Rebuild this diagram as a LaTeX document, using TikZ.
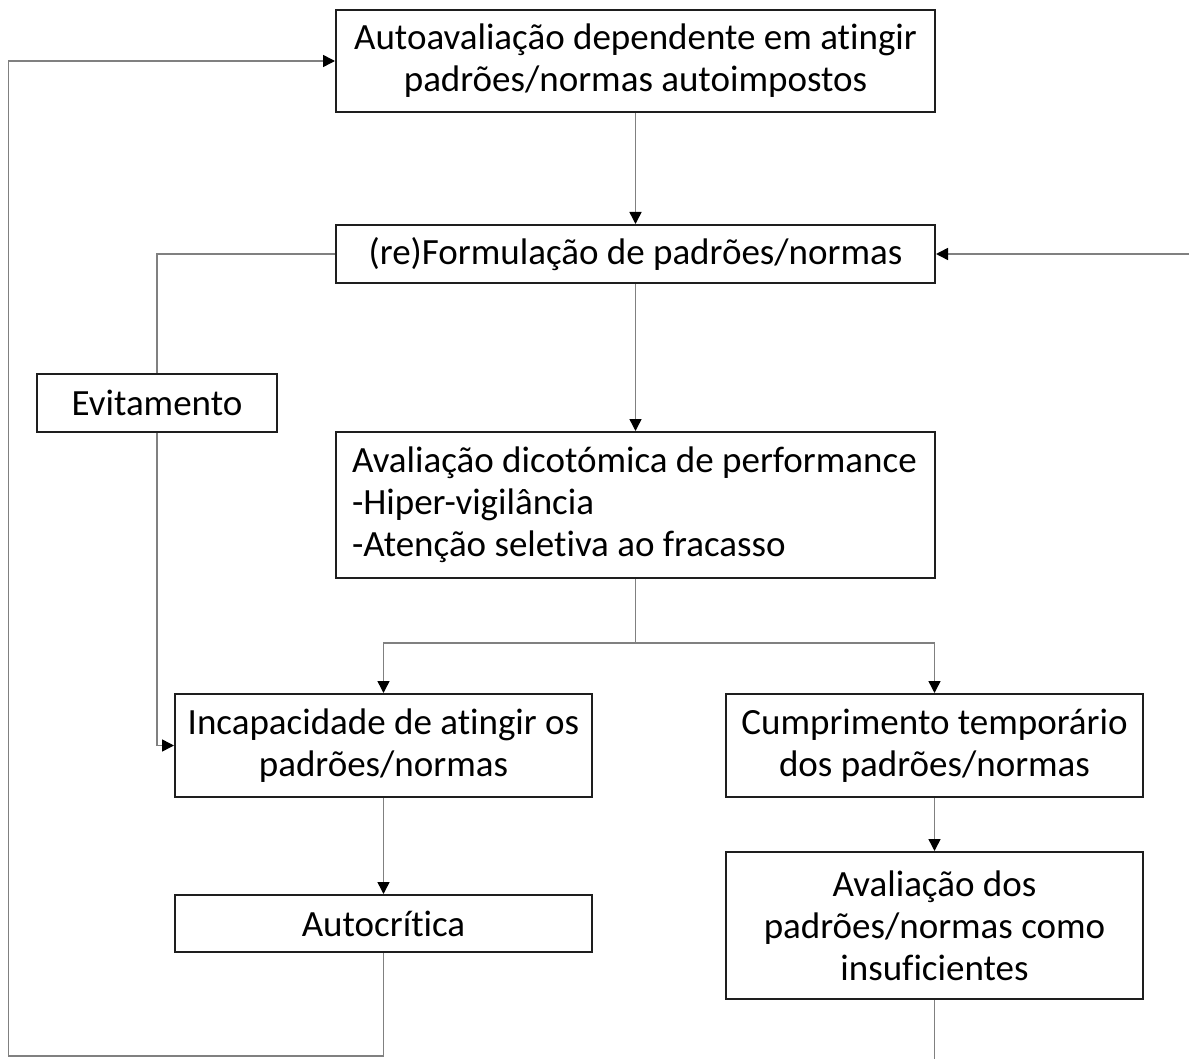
\documentclass[tikz,border=0pt]{standalone}
\usepackage{fontspec}
\setmainfont{Carlito}[Ligatures=NoCommon]
\usetikzlibrary{arrows.meta}
\definecolor{connc}{RGB}{128,128,128}
\definecolor{boxc}{RGB}{30,30,30}
\begin{document}
\begin{tikzpicture}[x=1pt,y=-1pt,
  box/.style={draw=boxc, line width=2pt, inner sep=0pt, fill=white,
    font=\fontsize{37}{42}\selectfont, align=center},
  conn/.style={draw=connc, line width=1.5pt},
  arr/.style={conn, -{Triangle[length=12pt,width=12pt,color=black]}}]
\useasboundingbox[fill=white] (0,0) rectangle (1189,1059);
\node[box, minimum width=599pt, minimum height=102pt] (b1) at (635.5,61)
  {Autoavaliação dependente em atingir\\padrões/normas autoimpostos};
\node[box, minimum width=599pt, minimum height=58pt] (b2) at (635.5,254)
  {(re)Formulação de padrões/normas};
\node[box, minimum width=240pt, minimum height=58pt] (ev) at (157,403)
  {Evitamento};
\node[box, minimum width=599pt, minimum height=146pt, text width=567pt, align=flush left] (b3) at (635.5,505)
  {Avaliação dicotómica de performance\\-Hiper-vigilância\\-Atenção seletiva ao fracasso};
\node[box, minimum width=417pt, minimum height=103pt] (inc) at (383.5,745.5)
  {Incapacidade de atingir os\\padrões/normas};
\node[box, minimum width=417pt, minimum height=103pt] (cum) at (934.5,745.5)
  {Cumprimento temporário\\dos padrões/normas};
\node[box, minimum width=417pt, minimum height=57pt] (aut) at (383.5,923.5)
  {Autocrítica};
\node[box, minimum width=417pt, minimum height=147pt] (ava) at (934.5,925.5)
  {Avaliação dos\\padrões/normas como\\insuficientes};
\coordinate (rin) at (1189,254);
\coordinate (bout) at (934.5,1059);
\coordinate (lb) at (8.5,1056);
\coordinate (lt) at (8.5,61);
\draw[arr] (b1) -- (b2);
\draw[arr] (b2) -- (b3);
\draw[conn] (b2.west) -| (ev.north);
\draw[arr] (ev.south) |- (inc.west);
\draw[conn] (b3.south) -- ++(0,64) coordinate (j);
\draw[arr] (j) -| (inc.north);
\draw[arr] (j) -| (cum.north);
\draw[arr] (inc) -- (aut);
\draw[arr] (cum) -- (ava);
\draw[arr] (rin) -- (b2.east);
\draw[conn] (ava.south) -- (bout);
\draw[arr] (aut.south) |- (lb) -- (lt) -- (b1.west);
\end{tikzpicture}
\end{document}
